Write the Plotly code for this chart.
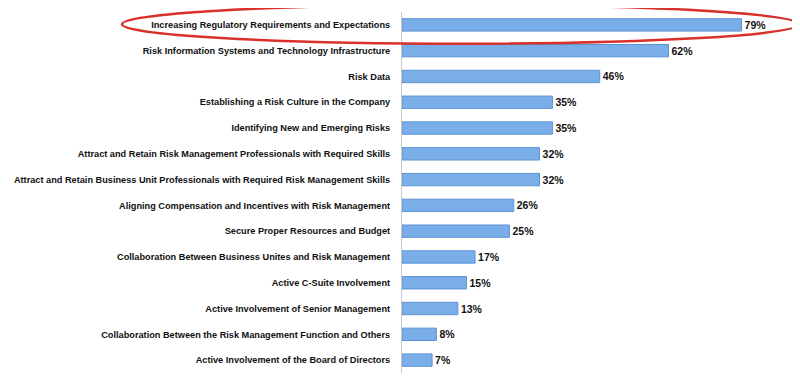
import plotly.graph_objects as go

categories = [
    "Increasing Regulatory Requirements and Expectations",
    "Risk Information Systems and Technology Infrastructure",
    "Risk Data",
    "Establishing a Risk Culture in the Company",
    "Identifying New and Emerging Risks",
    "Attract and Retain Risk Management Professionals with Required Skills",
    "Attract and Retain Business Unit Professionals with Required Risk Management Skills",
    "Aligning Compensation and Incentives with Risk Management",
    "Secure Proper Resources and Budget",
    "Collaboration Between Business Unites and Risk Management",
    "Active C-Suite Involvement",
    "Active Involvement of Senior Management",
    "Collaboration Between the Risk Management Function and Others",
    "Active Involvement of the Board of Directors",
]
values = [79, 62, 46, 35, 35, 32, 32, 26, 25, 17, 15, 13, 8, 7]
labels = [f"{v}%" for v in values]

FONT = "Liberation Sans, Arial, sans-serif"

fig = go.Figure(go.Bar(
    x=values,
    y=categories,
    orientation="h",
    text=labels,
    textposition="outside",
    textfont=dict(family=FONT, size=10.5, color="#111111", weight="bold"),
    marker=dict(color="#7aaee9", line=dict(color="#5d93d4", width=1)),
    cliponaxis=False,
    width=0.48,
))

fig.update_layout(
    width=800, height=386,
    margin=dict(l=394, r=8, t=4, b=21, autoexpand=False),
    paper_bgcolor="white", plot_bgcolor="white",
    showlegend=False,
    bargap=0.5,
    font=dict(family=FONT, size=10, color="#111111"),
)
fig.update_yaxes(
    autorange="reversed", automargin=False,
    showline=True, linecolor="#c8c8c8", linewidth=1,
    ticks="", ticklabelstandoff=9,
    tickfont=dict(family=FONT, size=9.2, color="#111111", weight="bold"),
    showgrid=False,
)
fig.update_xaxes(
    range=[0, 92.6], visible=False, showgrid=False, zeroline=False, automargin=False,
)

fig.add_shape(
    type="circle", xref="paper", yref="paper",
    x0=-0.7035, x1=0.998, y0=0.912, y1=1.02,
    line=dict(color="#d9302a", width=2.5),
)

fig.write_html("out.html")
